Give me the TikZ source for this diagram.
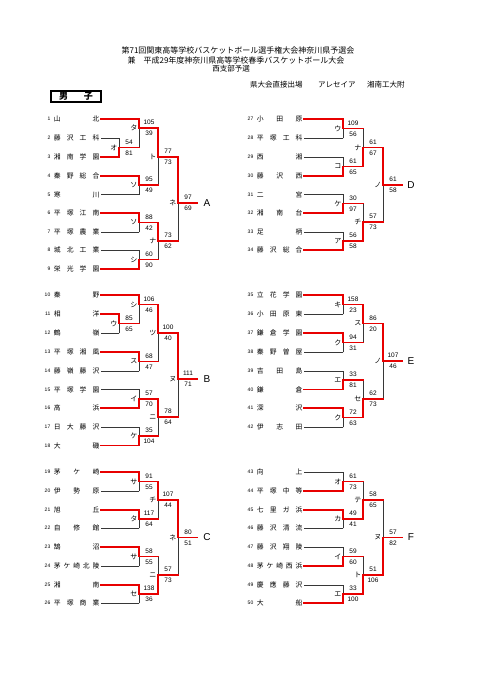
\documentclass[tikz,border=0pt]{standalone}
\usepackage{fontspec}
\newfontfamily\jp{Noto Sans CJK JP}
\newfontfamily\ar{Liberation Sans}
\pgfdeclarelayer{fg}
\pgfsetlayers{main,fg}
\definecolor{wred}{RGB}{232,0,0}
\definecolor{lgray}{RGB}{55,55,55}
\tikzset{
  win/.style={draw=wred,line width=1.8pt,line cap=rect,line join=miter},
  lose/.style={draw=lgray,line width=0.7pt,line cap=rect},
  nm/.style={font=\jp\fontsize{6.8}{7}\selectfont,inner xsep=1.5pt,inner ysep=0pt},
  num/.style={font=\ar\fontsize{5}{6}\selectfont,inner sep=0pt},
  lab/.style={font=\jp\fontsize{7}{7}\selectfont,inner sep=0pt},
  sc/.style={font=\ar\fontsize{6.5}{7}\selectfont,inner sep=0pt},
  letter/.style={font=\ar\fontsize{10}{10}\selectfont,inner sep=0pt},
  ttl/.style={font=\jp\fontsize{8}{9}\selectfont,inner sep=0pt},
}
\newcommand\teamL[5]{%
  \node[num,anchor=east] (n#1) at (50.5,#2) {#1};
  \node[nm,anchor=west] (t#1) at (52.25,#2) {\makebox[45.5pt][s]{#3}};
  \ifnum#5=1\relax
    \begin{pgfonlayer}{fg}\draw[win] (t#1.east) -- (#4,#2);\end{pgfonlayer}%
  \else
    \draw[lose] (t#1.east) -- (#4,#2);%
  \fi}
\newcommand\teamR[5]{%
  \node[num,anchor=east] (n#1) at (253.5,#2) {#1};
  \node[nm,anchor=west] (t#1) at (255.25,#2) {\makebox[45.5pt][s]{#3}};
  \ifnum#5=1\relax
    \begin{pgfonlayer}{fg}\draw[win] (t#1.east) -- (#4,#2);\end{pgfonlayer}%
  \else
    \draw[lose] (t#1.east) -- (#4,#2);%
  \fi}
% #1 vx, #2 ytop, #3 ybot, #4 yout, #5 next x, #6 label, #7 top score, #8 bottom score, #9 name
\newcommand\mymatch[9]{%
  \coordinate (#9) at (#1,#4);
  \ifnum#7>#8\relax
    \draw[lose] (#1,#3) -- (#9);
    \begin{pgfonlayer}{fg}\draw[win] (#1,#2) -- (#9) -- (#5,#4);\end{pgfonlayer}%
  \else
    \draw[lose] (#1,#2) -- (#9);
    \begin{pgfonlayer}{fg}\draw[win] (#1,#3) -- (#9) -- (#5,#4);\end{pgfonlayer}%
  \fi
  \node[lab,anchor=east] (#9-l) at ([xshift=-1.5pt]#9) {#6};
  \node[sc] (#9-a) at ([xshift=10pt,yshift=5.5pt]#9) {#7};
  \node[sc] (#9-b) at ([xshift=10pt,yshift=-5.5pt]#9) {#8};
}
\begin{document}
\begin{tikzpicture}[x=1pt,y=-1pt]
\useasboundingbox[fill=white] (0,0) rectangle (481,680);
% header
\node[ttl] (h1) at (238,50) {第71回関東高等学校バスケットボール選手権大会神奈川県予選会};
\node[ttl] (h2) at (236,60) {兼　平成29年度神奈川県高等学校春季バスケットボール大会};
\node[ttl,font=\jp\fontsize{7.5}{9}\selectfont] (h3) at (231,69) {西支部予選};
\node[ttl,anchor=west,font=\jp\fontsize{7.5}{9}\selectfont] (q1) at (250,85) {県大会直接出場};
\node[ttl,anchor=west,font=\jp\fontsize{7.5}{9}\selectfont] (q2) at (318,85) {アレセイア};
\node[ttl,anchor=west,font=\jp\fontsize{7.5}{9}\selectfont] (q3) at (367,85) {湘南工大附};
\node[draw,line width=1.3pt,minimum width=50pt,minimum height=11pt,inner sep=0pt,
      font=\jp\bfseries\fontsize{9}{9}\selectfont] (dan) at (76,96.5) {\makebox[34pt][s]{男 子}};

% ---------- Block A ----------
\teamL{1}{119}{山 北}{139}{1}
\teamL{2}{138}{藤 沢 工 科}{119}{0}
\teamL{3}{157}{湘 南 学 園}{119}{1}
\teamL{4}{176}{秦 野 総 合}{139}{1}
\teamL{5}{194.5}{寒 川}{139}{0}
\teamL{6}{213}{平 塚 江 南}{139}{1}
\teamL{7}{232}{平 塚 農 業}{139}{0}
\teamL{8}{250}{城 北 工 業}{139}{0}
\teamL{9}{269}{栄 光 学 園}{139}{1}
\mymatch{119}{138}{157}{147.5}{139}{オ}{54}{81}{A-o}
\mymatch{139}{119}{147.5}{128}{158}{タ}{105}{39}{A-ta}
\mymatch{139}{176}{194.5}{185}{158}{ソ}{95}{49}{A-so1}
\mymatch{158}{128}{185}{157}{178}{ト}{77}{73}{A-to}
\mymatch{139}{213}{232}{222.5}{158}{ソ}{88}{42}{A-so2}
\mymatch{139}{250}{269}{259.5}{158}{シ}{60}{90}{A-si}
\mymatch{158}{222.5}{259.5}{241}{178}{ナ}{73}{62}{A-na}
\mymatch{178}{157}{241}{203}{197}{ネ}{97}{69}{A-ne}
\node[letter] (LA) at (207,203) {A};

% ---------- Block D ----------
\teamR{27}{119}{小 田 原}{343}{1}
\teamR{28}{138}{平 塚 工 科}{343}{0}
\teamR{29}{157}{西 湘}{343}{0}
\teamR{30}{176}{藤 沢 西}{343}{1}
\teamR{31}{194.5}{二 宮}{343}{0}
\teamR{32}{213}{湘 南 台}{343}{1}
\teamR{33}{232}{足 柄}{343}{0}
\teamR{34}{250}{藤 沢 総 合}{343}{1}
\mymatch{343}{119}{138}{128.5}{363}{ウ}{109}{56}{D-u}
\mymatch{343}{157}{176}{166.5}{363}{コ}{61}{65}{D-ko}
\mymatch{363}{128.5}{166.5}{147.5}{383}{ナ}{61}{67}{D-na}
\mymatch{343}{194.5}{213}{203.5}{363}{ケ}{30}{97}{D-ke}
\mymatch{343}{232}{250}{241}{363}{ア}{56}{58}{D-a}
\mymatch{363}{203.5}{241}{222}{383}{チ}{57}{73}{D-ti}
\mymatch{383}{147.5}{222}{185}{402}{ノ}{61}{58}{D-no}
\node[letter] (LD) at (411,185) {D};

% ---------- Block B ----------
\teamL{10}{295}{秦 野}{139}{1}
\teamL{11}{314}{相 洋}{119}{1}
\teamL{12}{333}{鶴 嶺}{119}{0}
\teamL{13}{352}{平 塚 湘 風}{139}{1}
\teamL{14}{371}{藤 嶺 藤 沢}{139}{0}
\teamL{15}{389.5}{平 塚 学 園}{139}{0}
\teamL{16}{408}{高 浜}{139}{1}
\teamL{17}{427}{日 大 藤 沢}{139}{0}
\teamL{18}{445.5}{大 磯}{139}{1}
\mymatch{119}{314}{333}{323.5}{139}{ウ}{85}{65}{B-u}
\mymatch{139}{295}{323.5}{304.5}{158}{シ}{106}{46}{B-si}
\mymatch{139}{352}{371}{361.5}{158}{ス}{68}{47}{B-su}
\mymatch{158}{304.5}{361.5}{333}{178}{ツ}{100}{40}{B-tu}
\mymatch{139}{389.5}{408}{399}{158}{イ}{57}{70}{B-i}
\mymatch{139}{427}{445.5}{436}{158}{ケ}{35}{104}{B-ke}
\mymatch{158}{399}{436}{417}{178}{ニ}{78}{64}{B-ni}
\mymatch{178}{333}{417}{379}{197}{ヌ}{111}{71}{B-nu}
\node[letter] (LB) at (207,379) {B};

% ---------- Block E ----------
\teamR{35}{295}{立 花 学 園}{343}{1}
\teamR{36}{314}{小 田 原 東}{343}{0}
\teamR{37}{333}{鎌 倉 学 園}{343}{1}
\teamR{38}{352}{秦 野 曽 屋}{343}{0}
\teamR{39}{371}{吉 田 島}{343}{0}
\teamR{40}{389.5}{鎌 倉}{343}{1}
\teamR{41}{408}{深 沢}{343}{1}
\teamR{42}{427}{伊 志 田}{343}{0}
\mymatch{343}{295}{314}{304.5}{363}{キ}{158}{23}{E-ki}
\mymatch{343}{333}{352}{342.5}{363}{ク}{94}{31}{E-ku1}
\mymatch{363}{304.5}{342.5}{323.5}{383}{ス}{86}{20}{E-su}
\mymatch{343}{371}{389.5}{380}{363}{エ}{33}{81}{E-e}
\mymatch{343}{408}{427}{417.5}{363}{ク}{72}{63}{E-ku2}
\mymatch{363}{380}{417.5}{399}{383}{セ}{62}{73}{E-se}
\mymatch{383}{323.5}{399}{361}{402}{ノ}{107}{46}{E-no}
\node[letter] (LE) at (411,361) {E};

% ---------- Block C ----------
\teamL{19}{472}{茅 ケ 崎}{139}{1}
\teamL{20}{491}{伊 勢 原}{139}{0}
\teamL{21}{510}{旭 丘}{139}{1}
\teamL{22}{528}{自 修 館}{139}{0}
\teamL{23}{547}{鵠 沼}{139}{1}
\teamL{24}{566}{茅 ケ 崎 北 陵}{139}{0}
\teamL{25}{585}{湘 南}{139}{1}
\teamL{26}{603}{平 塚 商 業}{139}{0}
\mymatch{139}{472}{491}{481.5}{158}{サ}{91}{55}{C-sa1}
\mymatch{139}{510}{528}{519}{158}{タ}{117}{64}{C-ta}
\mymatch{158}{481.5}{519}{500}{178}{チ}{107}{44}{C-ti}
\mymatch{139}{547}{566}{556.5}{158}{サ}{58}{55}{C-sa2}
\mymatch{139}{585}{603}{594}{158}{セ}{138}{36}{C-se}
\mymatch{158}{556.5}{594}{575}{178}{ニ}{57}{73}{C-ni}
\mymatch{178}{500}{575}{537.5}{197}{ネ}{80}{51}{C-ne}
\node[letter] (LC) at (207,537.5) {C};

% ---------- Block F ----------
\teamR{43}{472}{向 上}{343}{0}
\teamR{44}{491}{平 塚 中 等}{343}{1}
\teamR{45}{510}{七 里 ガ 浜}{343}{1}
\teamR{46}{528}{藤 沢 清 流}{343}{0}
\teamR{47}{547}{藤 沢 翔 陵}{343}{0}
\teamR{48}{566}{茅 ケ 崎 西 浜}{343}{1}
\teamR{49}{585}{慶 應 藤 沢}{343}{0}
\teamR{50}{603}{大 船}{343}{1}
\mymatch{343}{472}{491}{481.5}{363}{オ}{61}{73}{F-o}
\mymatch{343}{510}{528}{519}{363}{カ}{49}{41}{F-ka}
\mymatch{363}{481.5}{519}{500}{383}{テ}{58}{65}{F-te}
\mymatch{343}{547}{566}{556.5}{363}{イ}{59}{60}{F-i}
\mymatch{343}{585}{603}{594}{363}{エ}{33}{100}{F-e}
\mymatch{363}{556.5}{594}{575}{383}{ト}{51}{106}{F-to}
\mymatch{383}{500}{575}{537.5}{402}{ヌ}{57}{82}{F-nu}
\node[letter] (LF) at (411,537.5) {F};
\end{tikzpicture}
\end{document}
